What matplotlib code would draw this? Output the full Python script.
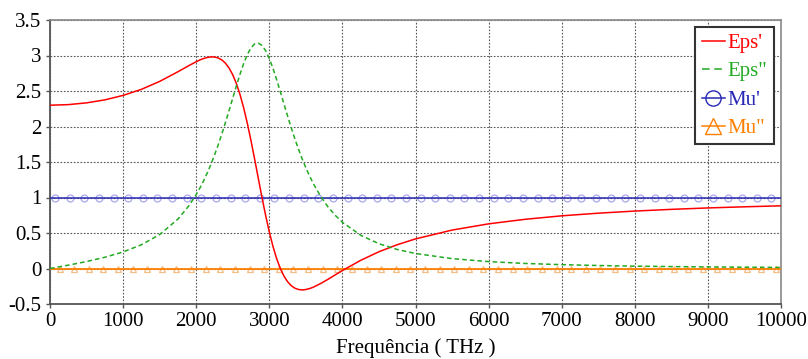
import numpy as np
import matplotlib
matplotlib.use('Agg')
import matplotlib.pyplot as plt
from matplotlib.lines import Line2D

# values
freq = [0, 250, 500, 750, 1000, 1250, 1500, 1750, 1900, 2000, 2050, 2100, 2150,
        2200, 2250, 2300, 2350, 2400, 2450, 2500, 2550, 2600, 2650, 2700, 2750,
        2800, 2850, 2900, 2950, 3000, 3050, 3100, 3150, 3200, 3250, 3300, 3350,
        3400, 3450, 3500, 3550, 3600, 3700, 3800, 3900, 4000, 4250, 4500, 4750,
        5000, 5500, 6000, 6500, 7000, 7500, 8000, 8500, 9000, 9500, 10000]
eps_re = [2.300, 2.308, 2.333, 2.375, 2.438, 2.523, 2.635, 2.771, 2.858, 2.912,
          2.937, 2.957, 2.972, 2.980, 2.979, 2.966, 2.938, 2.892, 2.823, 2.728,
          2.604, 2.448, 2.260, 2.042, 1.798, 1.537, 1.267, 1.000, 0.747, 0.515,
          0.312, 0.141, 0.002, -0.106, -0.186, -0.242, -0.277, -0.296, -0.302,
          -0.296, -0.283, -0.264, -0.213, -0.154, -0.091, -0.029, 0.115, 0.236,
          0.335, 0.417, 0.541, 0.629, 0.693, 0.742, 0.779, 0.809, 0.833, 0.853,
          0.869, 0.883]
eps_im = [0.000, 0.047, 0.098, 0.158, 0.233, 0.334, 0.478, 0.696, 0.883, 1.041,
          1.132, 1.233, 1.343, 1.464, 1.596, 1.739, 1.893, 2.056, 2.226, 2.400,
          2.573, 2.738, 2.888, 3.014, 3.108, 3.163, 3.174, 3.142, 3.068, 2.958,
          2.820, 2.662, 2.493, 2.319, 2.149, 1.983, 1.826, 1.679, 1.543, 1.418,
          1.304, 1.200, 1.020, 0.872, 0.751, 0.651, 0.468, 0.349, 0.268, 0.211,
          0.139, 0.097, 0.071, 0.054, 0.042, 0.033, 0.027, 0.022, 0.018, 0.015]
mu_freq = [0, 10000]
mu_re = [1.0, 1.0]
mu_im = [0.0, 0.0]

plt.rcParams['font.family'] = ['Liberation Serif', 'DejaVu Serif']

red = '#ff0000'
green = '#22aa22'
blue = '#2828b4'
orange = '#ff7f00'

fig = plt.figure(figsize=(8.08, 3.59), dpi=100)
ax = fig.add_axes([50 / 808, 55 / 359, 731 / 808, 284 / 359])

ax.plot(freq, eps_re, color=red, lw=1.1, zorder=5)
ax.plot(freq, eps_im, color=green, lw=1.1, ls=(0, (3, 2)), zorder=5)
ax.plot(mu_freq, mu_re, color=blue, lw=1.1, zorder=4)
ax.plot(mu_freq, mu_im, color=orange, lw=1.3, zorder=4)

# faded markers along the mu lines
circ_x = np.arange(70, 10000, 200)
tri_x = np.arange(130, 10000, 200)
ax.plot(circ_x, np.interp(circ_x, mu_freq, mu_re), ls='none', marker='o', ms=5,
        mfc='none', mec='#a8a8ec', mew=0.9, zorder=3)
ax.plot(tri_x, np.interp(tri_x, mu_freq, mu_im), ls='none', marker='^', ms=5,
        mfc='none', mec='#f4bd86', mew=0.9, zorder=3)

ax.set_xlim(0, 10000)
ax.set_ylim(-0.5, 3.5)
ax.set_xticks(range(0, 10001, 1000))
ax.set_yticks([-0.5, 0, 0.5, 1, 1.5, 2, 2.5, 3, 3.5])
ax.set_yticklabels(['-0.5', '0', '0.5', '1', '1.5', '2', '2.5', '3', '3.5'])
ax.tick_params(labelsize=15, length=3, width=1, color='#555555', pad=3)
ax.grid(True, color='#555555', ls=(0, (1.5, 1.5)), lw=0.8)
ax.set_axisbelow(True)
for s in ['left', 'bottom']:
    ax.spines[s].set_color('#555555')
    ax.spines[s].set_linewidth(1.3)
for s in ['top', 'right']:
    ax.spines[s].set_color('#888888')
    ax.spines[s].set_linewidth(1.2)

ax.set_xlabel('Frequência ( THz )', fontsize=15, labelpad=5)

handles = [
    Line2D([], [], color=red, lw=1.1),
    Line2D([], [], color=green, lw=1.1, ls=(0, (5, 3))),
    Line2D([], [], color=blue, lw=1.1, marker='o', ms=11, mfc='none', mec=blue),
    Line2D([], [], color=orange, lw=1.1, marker='^', ms=11, mfc='none', mec=orange),
]
leg = ax.legend(handles, ["Eps'", 'Eps"', "Mu'", 'Mu"'], loc='upper right',
                fontsize=15, handlelength=1.1, handletextpad=0.15,
                borderpad=0.3, labelspacing=0.42, borderaxespad=0.35,
                fancybox=False, framealpha=1, edgecolor='#333333')
leg.get_frame().set_linewidth(1.5)
for t, c in zip(leg.get_texts(), [red, green, blue, orange]):
    t.set_color(c)

fig.savefig('out.png', dpi=100)
